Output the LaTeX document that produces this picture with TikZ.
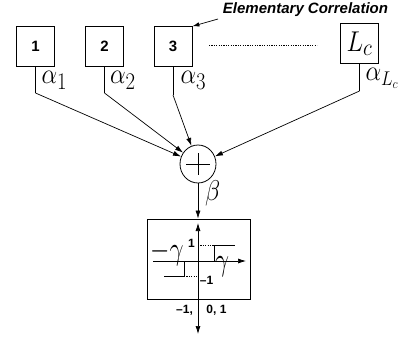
\documentclass[tikz,border=0pt]{standalone}
\usepackage{fontspec}
\usepackage{graphicx}
\setsansfont{Liberation Sans}
\usetikzlibrary{arrows.meta,shapes.geometric}
\newcommand\vstretch[2]{\scalebox{1}[#1]{#2}}
\tikzset{
  box/.style={draw,line width=0.8pt,minimum width=38pt,minimum height=40pt,inner sep=0pt},
  num/.style={font=\fontsize{15}{17}\sffamily\bfseries},
  lab/.style={font=\fontsize{29}{31}\selectfont,inner sep=0pt},
  alab/.style={font=\fontsize{29}{31}\selectfont,inner sep=0pt,anchor=base west},
  glab/.style={font=\fontsize{23}{26}\selectfont,inner sep=0pt},
  small/.style={font=\fontsize{12}{14}\sffamily\bfseries,inner sep=0pt},
  conn/.style={line width=0.7pt,-{Latex[length=8pt,width=5pt]}},
  wire/.style={line width=0.7pt},
  dotl/.style={line width=0.7pt,dash pattern=on 1.2pt off 1.2pt},
}
\begin{document}
\begin{tikzpicture}[x=1pt,y=-1pt]
\useasboundingbox (0,0) rectangle (406,339);
% boxes
\node[box,num] (b1) at (35.5,46.7) {1};
\node[box,num] (b2) at (104.5,46.7) {2};
\node[box,num] (b3) at (173,46.7) {3};
\node[box,lab,minimum width=38pt,minimum height=40pt] (bL) at (359.5,43.5) {\vstretch{1.15}{$L_c$}};
\draw[dotl] (209,45) -- (317,45);
% annotation
\node[font=\fontsize{15}{17}\sffamily\bfseries\itshape,inner sep=0pt] (ec) at (305.5,10) {Elementary Correlation};
\coordinate (ecs) at (218,19);
\draw[line width=0.7pt,-{Latex[length=7pt,width=4.5pt]}] (ecs) -- (b3.north east);
% summing junction
\node[ellipse,draw,line width=0.8pt,minimum width=36pt,minimum height=38pt,inner sep=0pt] (sum) at (198,164) {};
\draw[line width=0.7pt] (186,164) -- (210,164) (198,153) -- (198,175);
% bends
\coordinate (k1) at (b1.south |- 0,93);
\coordinate (k2) at (b2.south |- 0,93);
\coordinate (k3) at (b3.south |- 0,95);
\coordinate (kL) at (bL.south |- 0,91);
\draw[wire] (b1.south) -- (k1);
\draw[wire] (b2.south) -- (k2);
\draw[wire] (b3.south) -- (k3);
\draw[wire] (bL.south) -- (kL);
\draw[conn] (k1) -- (sum);
\draw[conn] (k2) -- (sum);
\draw[conn] (k3) -- (sum);
\draw[conn] (kL) -- (sum);
\node[alab] (a1) at (41.5,84) {\vstretch{1.15}{$\alpha_1$}};
\node[alab] (a2) at (110,84) {\vstretch{1.15}{$\alpha_2$}};
\node[alab] (a3) at (180.5,84) {\vstretch{1.15}{$\alpha_3$}};
\node[alab,font=\fontsize{26}{28}\selectfont] (aL) at (365.5,81) {\vstretch{1.15}{$\alpha_{L_c}$}};
% quantizer box
\node[draw,line width=0.8pt,minimum width=103pt,minimum height=80pt,inner sep=0pt] (q) at (198.5,259) {};
\draw[conn] (sum) -- (sum.south |- q.north);
\node[alab] (beta) at (205,200) {\vstretch{1.15}{$\beta$}};
% axes
\coordinate (vb) at (198,299);
\coordinate (vt) at (198,223);
\draw[conn] (vb) -- (vt);
\draw[conn] (153,261) -- (246,261);
% steps
\draw[dotl] (198,245.5) -- (214,245.5);
\draw[wire] (214,261) -- (214,245.5) -- (235,245.5);
\draw[wire] (164,276) -- (184,276) -- (184,261);
\draw[dotl] (184,276) -- (198,276);
\node[glab] (mg) at (167,253) {\vstretch{1.3}{$-\gamma$}};
\node[small] (one) at (191.5,243) {1};
\node[small] (mone) at (206.5,280) {--1};
\node[glab] (g) at (222,267) {\vstretch{1.3}{$\gamma$}};
% output
\coordinate (out) at (198,334);
\draw[conn] (vb) -- (out);
\node[small] (o1) at (184.5,310) {--1,};
\node[small] (o2) at (216.5,310) {0, 1};
\end{tikzpicture}
\end{document}
